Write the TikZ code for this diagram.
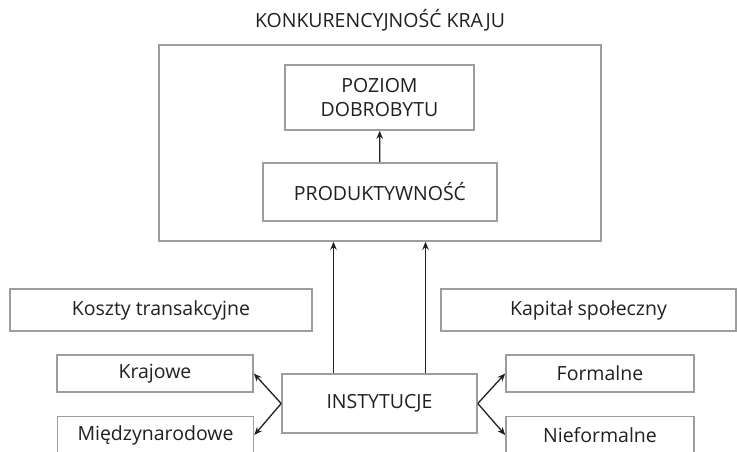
\documentclass[tikz,border=0pt]{standalone}
\usepackage{fontspec}
\setmainfont{Open Sans}
\usepackage{xcolor}
\usetikzlibrary{arrows.meta,positioning}
\definecolor{boxgray}{RGB}{157,157,157}
\definecolor{inkdark}{RGB}{35,31,32}

\begin{document}
\begin{tikzpicture}[
    x=1pt, y=-1pt,
    every node/.style={text=inkdark, font=\fontsize{19.5}{24}\selectfont},
    box/.style={rectangle, draw=boxgray, line width=1.6pt, fill=white, inner sep=0pt, align=center},
    arrow/.style={-{Stealth[length=8pt,width=6.5pt]}, line width=1.3pt, draw=inkdark}
]
    \useasboundingbox (0,0) rectangle (737,451);

    \node (title) at (380,20) {KONKURENCYJNOŚĆ KRAJU};
    \node[box, minimum width=442pt, minimum height=196pt] (kraj) at (380,143) {};
    \node[box, minimum width=189pt, minimum height=65pt] (dobrobyt) at (379.5,97.5) {POZIOM\\DOBROBYTU};
    \node[box, minimum width=234pt, minimum height=58pt] (produkt) at (380,192) {PRODUKTYWNOŚĆ};

    \node[box, minimum width=302pt, minimum height=42pt] (koszty) at (161,310) {Koszty transakcyjne};
    \node[box, minimum width=295pt, minimum height=42pt] (kapital) at (588.5,310) {Kapitał społeczny};

    \node[box, minimum width=195pt, minimum height=59pt] (instytucje) at (379.5,403.5) {INSTYTUCJE};
    \node[box, minimum width=196pt, minimum height=37pt] (krajowe) at (155,373.5) {Krajowe};
    \node[box, minimum width=196pt, minimum height=37pt] (miedzy) at (155.5,435) {Międzynarodowe};
    \node[box, minimum width=188pt, minimum height=37pt] (formalne) at (600,373.5) {Formalne};
    \node[box, minimum width=188pt, minimum height=37pt] (nieformalne) at (600,435) {Nieformalne};

    \draw[arrow] (produkt) -- (dobrobyt);
    \draw[arrow] ([xshift=-46pt]instytucje.north) -- ([xshift=-46pt]instytucje.north |- kraj.south);
    \draw[arrow] ([xshift=46pt]instytucje.north) -- ([xshift=46pt]instytucje.north |- kraj.south);
    \draw[arrow] (instytucje.west) -- (krajowe.east);
    \draw[arrow] (instytucje.west) -- (miedzy.east);
    \draw[arrow] (instytucje.east) -- (formalne.west);
    \draw[arrow] (instytucje.east) -- (nieformalne.west);
\end{tikzpicture}
\end{document}
